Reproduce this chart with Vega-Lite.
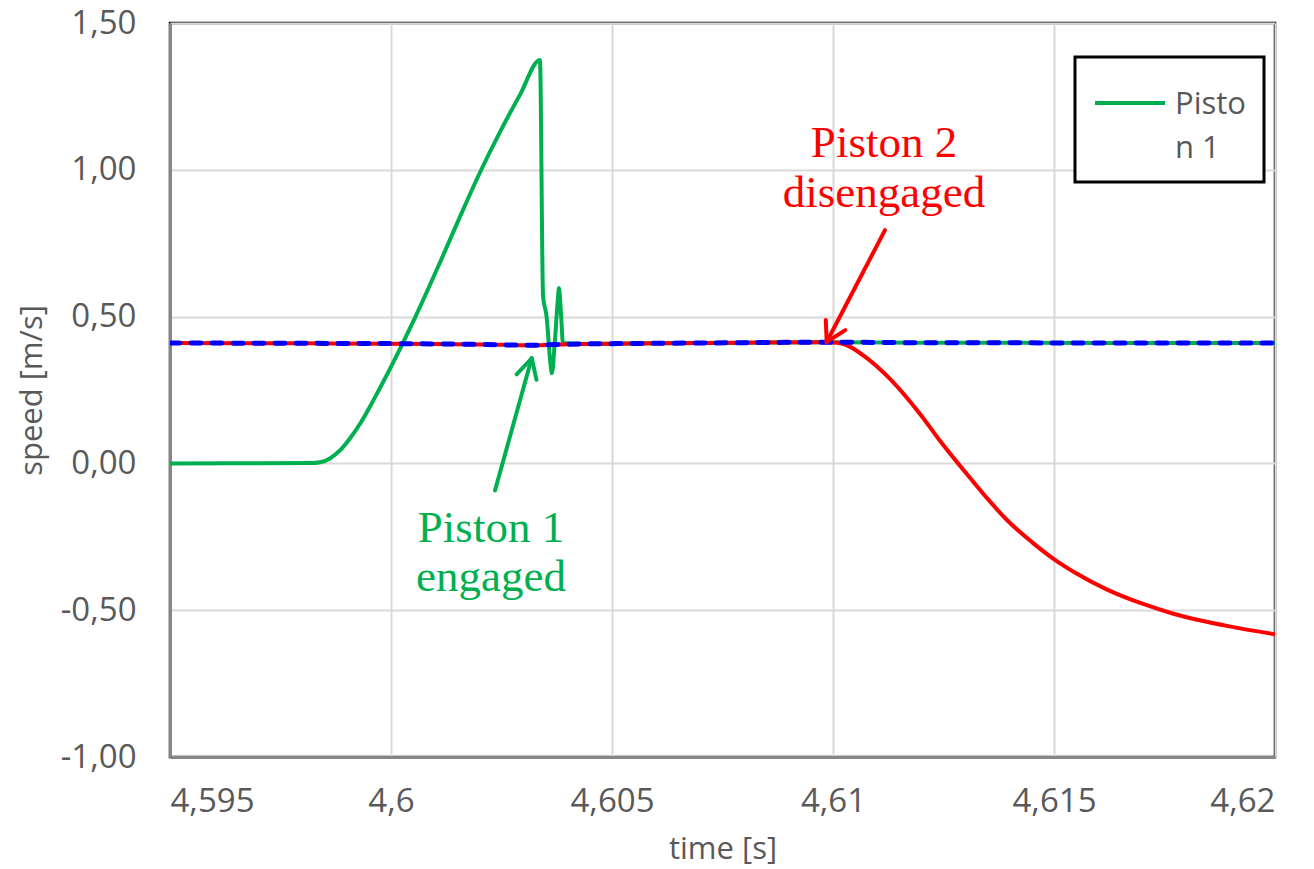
{
  "$schema": "https://vega.github.io/schema/vega-lite/v6.json",
  "width": 1105,
  "height": 734,
  "autosize": {"type": "none"},
  "padding": {"left": 170, "top": 23, "right": 39, "bottom": 112},
  "background": "white",
  "config": {
    "view": {"stroke": "black", "strokeWidth": 2.5},
    "legend": {"strokeColor": "black", "strokeWidth": 3, "fillColor": "white", "padding": 20},
    "axis": {
      "grid": true,
      "gridColor": "#d9d9d9",
      "gridWidth": 2,
      "ticks": false,
      "domainColor": "#868686",
      "domainWidth": 3,
      "labelFont": "Open Sans",
      "labelFontSize": 33,
      "labelColor": "#595959",
      "titleFont": "Open Sans",
      "titleFontSize": 31,
      "titleColor": "#595959",
      "titleFontWeight": "normal"
    }
  },
  "datasets": {
    "series": [
      {"s": "Piston 1", "t": 4.595, "v": 0.0},
      {"s": "Piston 1", "t": 4.5982, "v": 0.001},
      {"s": "Piston 1", "t": 4.5984, "v": 0.004},
      {"s": "Piston 1", "t": 4.59862, "v": 0.017},
      {"s": "Piston 1", "t": 4.59885, "v": 0.045},
      {"s": "Piston 1", "t": 4.59907, "v": 0.085},
      {"s": "Piston 1", "t": 4.5993, "v": 0.135},
      {"s": "Piston 1", "t": 4.59952, "v": 0.192},
      {"s": "Piston 1", "t": 4.59975, "v": 0.257},
      {"s": "Piston 1", "t": 4.60002, "v": 0.335},
      {"s": "Piston 1", "t": 4.60057, "v": 0.505},
      {"s": "Piston 1", "t": 4.60111, "v": 0.685},
      {"s": "Piston 1", "t": 4.60156, "v": 0.84},
      {"s": "Piston 1", "t": 4.60201, "v": 0.99},
      {"s": "Piston 1", "t": 4.60247, "v": 1.13},
      {"s": "Piston 1", "t": 4.60292, "v": 1.256},
      {"s": "Piston 1", "t": 4.60337, "v": 1.374},
      {"s": "Piston 1", "t": 4.60344, "v": 0.57},
      {"s": "Piston 1", "t": 4.60352, "v": 0.5},
      {"s": "Piston 1", "t": 4.6036, "v": 0.351},
      {"s": "Piston 1", "t": 4.60364, "v": 0.307},
      {"s": "Piston 1", "t": 4.6037, "v": 0.4},
      {"s": "Piston 1", "t": 4.60377, "v": 0.55},
      {"s": "Piston 1", "t": 4.6038, "v": 0.597},
      {"s": "Piston 1", "t": 4.60385, "v": 0.5},
      {"s": "Piston 1", "t": 4.60389, "v": 0.41},
      {"s": "Piston 1", "t": 4.6045, "v": 0.407},
      {"s": "Piston 1", "t": 4.606, "v": 0.409},
      {"s": "Piston 1", "t": 4.608, "v": 0.411},
      {"s": "Piston 1", "t": 4.61, "v": 0.413},
      {"s": "Piston 1", "t": 4.612, "v": 0.411},
      {"s": "Piston 1", "t": 4.62, "v": 0.41},

      {"s": "Piston 2", "t": 4.595, "v": 0.41},
      {"s": "Piston 2", "t": 4.598, "v": 0.409},
      {"s": "Piston 2", "t": 4.601, "v": 0.407},
      {"s": "Piston 2", "t": 4.6025, "v": 0.404},
      {"s": "Piston 2", "t": 4.6032, "v": 0.402},
      {"s": "Piston 2", "t": 4.6036, "v": 0.404},
      {"s": "Piston 2", "t": 4.604, "v": 0.406},
      {"s": "Piston 2", "t": 4.606, "v": 0.409},
      {"s": "Piston 2", "t": 4.608, "v": 0.411},
      {"s": "Piston 2", "t": 4.60985, "v": 0.413},
      {"s": "Piston 2", "t": 4.6101, "v": 0.411},
      {"s": "Piston 2", "t": 4.6104, "v": 0.396},
      {"s": "Piston 2", "t": 4.6107, "v": 0.366},
      {"s": "Piston 2", "t": 4.6113, "v": 0.286},
      {"s": "Piston 2", "t": 4.612, "v": 0.162},
      {"s": "Piston 2", "t": 4.61242, "v": 0.077},
      {"s": "Piston 2", "t": 4.61317, "v": -0.062},
      {"s": "Piston 2", "t": 4.6135, "v": -0.121},
      {"s": "Piston 2", "t": 4.61393, "v": -0.192},
      {"s": "Piston 2", "t": 4.6145, "v": -0.268},
      {"s": "Piston 2", "t": 4.61498, "v": -0.324},
      {"s": "Piston 2", "t": 4.6155, "v": -0.374},
      {"s": "Piston 2", "t": 4.61619, "v": -0.429},
      {"s": "Piston 2", "t": 4.617, "v": -0.478},
      {"s": "Piston 2", "t": 4.6177, "v": -0.512},
      {"s": "Piston 2", "t": 4.619, "v": -0.556},
      {"s": "Piston 2", "t": 4.62, "v": -0.582},

      {"s": "Reference", "t": 4.595, "v": 0.41},
      {"s": "Reference", "t": 4.598, "v": 0.409},
      {"s": "Reference", "t": 4.601, "v": 0.407},
      {"s": "Reference", "t": 4.6025, "v": 0.404},
      {"s": "Reference", "t": 4.6032, "v": 0.402},
      {"s": "Reference", "t": 4.6036, "v": 0.404},
      {"s": "Reference", "t": 4.604, "v": 0.406},
      {"s": "Reference", "t": 4.606, "v": 0.409},
      {"s": "Reference", "t": 4.608, "v": 0.411},
      {"s": "Reference", "t": 4.60985, "v": 0.413},
      {"s": "Reference", "t": 4.612, "v": 0.411},
      {"s": "Reference", "t": 4.62, "v": 0.41}
    ],
    "arrows": [
      {"who": "p1", "t": 4.602353, "v": -0.0921, "t2": 4.603183, "v2": 0.358},
      {"who": "p1", "t": 4.602842, "v": 0.3034, "t2": 4.603183, "v2": 0.358},
      {"who": "p1", "t": 4.603292, "v": 0.2847, "t2": 4.603183, "v2": 0.358},
      {"who": "p2", "t": 4.611176, "v": 0.7944, "t2": 4.609857, "v2": 0.4136},
      {"who": "p2", "t": 4.609837, "v": 0.4886, "t2": 4.609857, "v2": 0.4136},
      {"who": "p2", "t": 4.610278, "v": 0.4538, "t2": 4.609857, "v2": 0.4136}
    ],
    "notes": [
      {"who": "p1", "t": 4.602262, "v": -0.269, "label": "Piston 1"},
      {"who": "p1", "t": 4.602262, "v": -0.433, "label": "engaged"},
      {"who": "p2", "t": 4.611154, "v": 1.043, "label": "Piston 2"},
      {"who": "p2", "t": 4.611154, "v": 0.873, "label": "disengaged"}
    ]
  },
  "layer": [
    {
      "data": {"name": "series"},
      "transform": [{"filter": "datum.s === 'Piston 1'"}],
      "mark": {"type": "line", "strokeWidth": 4, "clip": true, "interpolate": "monotone"},
      "encoding": {
        "x": {
          "field": "t", "type": "quantitative",
          "scale": {"domain": [4.595, 4.62], "nice": false, "zero": false},
          "axis": {
            "values": [4.595, 4.6, 4.605, 4.61, 4.615, 4.62],
            "labelExpr": "replace(toString(round(datum.value*1000)/1000), '.', ',')",
            "labelPadding": 28,
            "title": "time [s]",
            "titlePadding": 16
          }
        },
        "y": {
          "field": "v", "type": "quantitative",
          "scale": {"domain": [-1, 1.5], "nice": false, "zero": false},
          "axis": {
            "values": [-1, -0.5, 0, 0.5, 1, 1.5],
            "labelExpr": "(datum.value < 0 ? '-' : '') + replace(format(abs(datum.value), '.2f'), '.', ',')",
            "labelPadding": 34,
            "title": "speed [m/s]",
            "titlePadding": 12
          }
        },
        "color": {
          "field": "s", "type": "nominal",
          "scale": {"domain": ["Piston 1", "Piston 2"], "range": ["#00b050", "#ff0000"]},
          "legend": {
            "orient": "none",
            "legendX": 905,
            "legendY": 34,
            "values": ["Piston 1"],
            "title": null,
            "symbolType": "stroke",
            "symbolSize": 4900,
            "symbolStrokeWidth": 4,
            "labelFont": "Open Sans",
            "labelFontSize": 31,
            "labelColor": "#595959",
            "labelExpr": "datum.label == 'Piston 1' ? ['Pisto', 'n 1'] : datum.label",
            "labelOffset": 8,
            "padding": 18,
            "encode": {
              "labels": {"update": {"lineHeight": {"value": 44}, "dy": {"value": -7}}},
              "symbols": {"update": {"yc": {"value": 28}}}
            }
          }
        }
      }
    },
    {
      "data": {"name": "series"},
      "transform": [{"filter": "datum.s === 'Piston 2'"}],
      "mark": {"type": "line", "strokeWidth": 4, "clip": true, "interpolate": "monotone"},
      "encoding": {
        "x": {"field": "t", "type": "quantitative"},
        "y": {"field": "v", "type": "quantitative"},
        "color": {"field": "s", "type": "nominal"}
      }
    },
    {
      "data": {"name": "series"},
      "transform": [{"filter": "datum.s === 'Reference'"}],
      "mark": {"type": "line", "strokeWidth": 5, "color": "#0000ff", "strokeDash": [10, 11], "strokeCap": "round", "clip": true, "interpolate": "monotone"},
      "encoding": {
        "x": {"field": "t", "type": "quantitative"},
        "y": {"field": "v", "type": "quantitative"}
      }
    },
    {
      "data": {"name": "arrows"},
      "transform": [{"filter": "datum.who === 'p1'"}],
      "mark": {"type": "rule", "color": "#00b050", "strokeWidth": 4, "strokeCap": "round"},
      "encoding": {
        "x": {"field": "t", "type": "quantitative"},
        "y": {"field": "v", "type": "quantitative"},
        "x2": {"field": "t2"},
        "y2": {"field": "v2"}
      }
    },
    {
      "data": {"name": "arrows"},
      "transform": [{"filter": "datum.who === 'p2'"}],
      "mark": {"type": "rule", "color": "#ff0000", "strokeWidth": 4, "strokeCap": "round"},
      "encoding": {
        "x": {"field": "t", "type": "quantitative"},
        "y": {"field": "v", "type": "quantitative"},
        "x2": {"field": "t2"},
        "y2": {"field": "v2"}
      }
    },
    {
      "data": {"name": "notes"},
      "transform": [{"filter": "datum.who === 'p1'"}],
      "mark": {"type": "text", "color": "#00b050", "font": "Liberation Serif", "fontSize": 45, "align": "center", "baseline": "alphabetic"},
      "encoding": {
        "x": {"field": "t", "type": "quantitative"},
        "y": {"field": "v", "type": "quantitative"},
        "text": {"field": "label"}
      }
    },
    {
      "data": {"name": "notes"},
      "transform": [{"filter": "datum.who === 'p2'"}],
      "mark": {"type": "text", "color": "#ff0000", "font": "Liberation Serif", "fontSize": 45, "align": "center", "baseline": "alphabetic"},
      "encoding": {
        "x": {"field": "t", "type": "quantitative"},
        "y": {"field": "v", "type": "quantitative"},
        "text": {"field": "label"}
      }
    }
  ]
}
